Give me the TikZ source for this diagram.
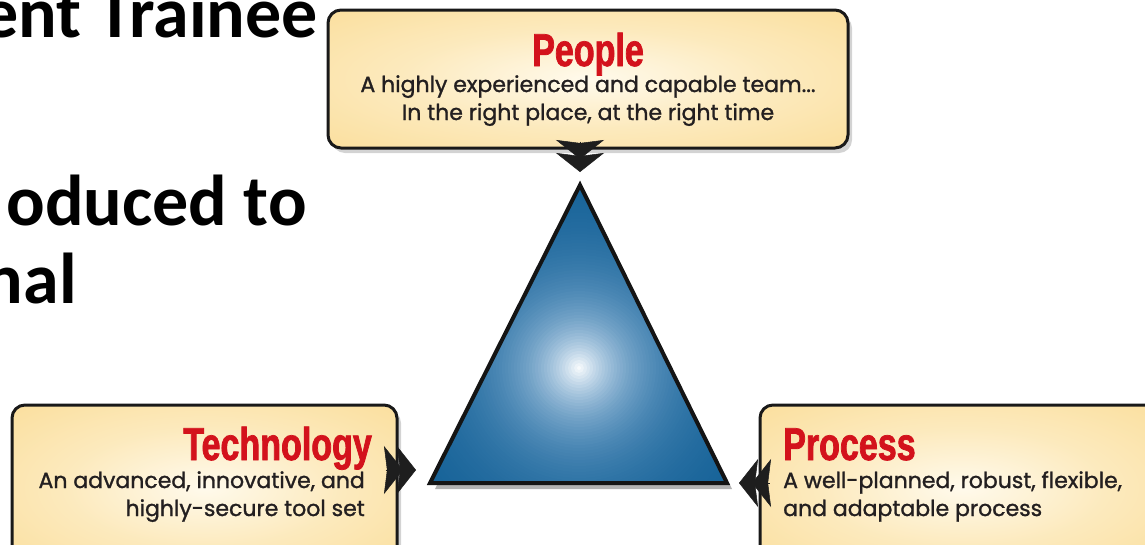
\documentclass[tikz,border=0pt]{standalone}
\usepackage{fontspec}
\setmainfont{Poppins}
\newfontfamily\bodyfont[FakeBold=1.2]{Poppins}
\newfontfamily\titlefont[FakeStretch=0.74,FakeBold=1.6]{Liberation Sans}
\newfontfamily\slidefont{Carlito}
\usetikzlibrary{arrows.meta,shadows}
\definecolor{boxedge}{HTML}{F9D684}
\definecolor{boxmid}{HTML}{FFFAEC}
\definecolor{titlered}{HTML}{D3121C}
\definecolor{bodytext}{HTML}{231F20}
\definecolor{arrowc}{HTML}{1E1E1E}
\definecolor{trimid}{HTML}{3A80BA}
\definecolor{triedge}{HTML}{0B5A90}
\pgfdeclareradialshading{boxshade}{\pgfpoint{0bp}{0bp}}{color(0bp)=(boxmid); color(18bp)=(boxmid!55!boxedge); color(50bp)=(boxedge)}
\tikzset{
  infobox/.style={draw=black!90, line width=3pt, rounded corners=13pt, shading=boxshade,
    drop shadow={opacity=0.35, shadow xshift=4pt, shadow yshift=-5pt}, inner sep=0pt},
  boxtitle/.style={font=\titlefont\bfseries\fontsize{46}{46}\selectfont, text=titlered, inner sep=0pt},
  boxbody/.style={font=\bodyfont\fontsize{22}{26}\selectfont, text=bodytext, inner sep=0pt},
  slidetext/.style={font=\slidefont\bfseries\fontsize{72}{80}\selectfont, inner sep=0pt, anchor=base east},
  conn/.style={draw=arrowc, line width=0.5pt,
    -{Stealth[length=19pt,width=48pt,inset=3pt,sep=-6pt]Stealth[length=19pt,width=48pt,inset=3pt]}},
}
\begin{document}
\begin{tikzpicture}[x=1pt,y=-1pt]
\useasboundingbox (0,0) rectangle (1145,544);
\clip (0,0) rectangle (1145,544);
% slide text behind
\node[slidetext] (s1) at (318,37) {ent Trainee};
\node[slidetext] (s2) at (307,225) {oduced to};
\node[slidetext] (s3) at (77,303) {nal};
% boxes
\node[infobox, minimum width=520pt, minimum height=138pt] (ppl) at (588,79) {};
\node[infobox, minimum width=385pt, minimum height=165pt] (tech) at (204.5,487.5) {};
\node[infobox, minimum width=405pt, minimum height=165pt] (proc) at (962.5,487.5) {};
% texts
\node[boxtitle, anchor=base] (pt) at (588,66) {People};
\node[boxbody, anchor=base] (pl1) at (588,92) {A highly experienced and capable team...};
\node[boxbody, anchor=base] (pl2) at (588,120) {In the right place, at the right time};
\node[boxtitle, anchor=base east] (tt) at (372,460) {Technology};
\node[boxbody, anchor=base east] (tl1) at (365,488) {An advanced, innovative, and};
\node[boxbody, anchor=base east] (tl2) at (365,516) {highly-secure tool set};
\node[boxtitle, anchor=base west] (rt) at (783,460) {Process};
\node[boxbody, anchor=base west] (rl1) at (783,488) {A well-planned, robust, flexible,};
\node[boxbody, anchor=base west] (rl2) at (783,516) {and adaptable process};
% triangle
\coordinate (apex) at (580,185);
\coordinate (bl) at (430,483);
\coordinate (br) at (727,483);
\coordinate (glow) at (579,368);
\fill[black, opacity=0.3] ([shift={(5pt,-6pt)}]apex) -- ([shift={(5pt,-6pt)}]br) -- ([shift={(5pt,-6pt)}]bl) -- cycle;
\begin{scope}
  \clip (apex) -- (br) -- (bl) -- cycle;
  \fill[triedge] (apex) -- (br) -- (bl) -- cycle;
  \foreach \r in {200,197,...,2} {
    \pgfmathsetmacro{\fw}{100*exp(-\r/50)}
    \pgfmathsetmacro{\fb}{100*exp(-\r/95)}
    \colorlet{tmpblue}{trimid!\fb!triedge}
    \fill[white!\fw!tmpblue] (glow) circle (\r);
  }
\end{scope}
\draw[line width=4pt, line join=miter, draw=black!92] (apex) -- (br) -- (bl) -- cycle;
% connectors
\coordinate (ptip) at (580,172);
\coordinate (ttip) at (416,470);
\coordinate (rtip) at (739,483);
\draw[conn] ([yshift=8pt]ppl.south -| ptip) -- (ptip);
\draw[conn] ([xshift=-13pt]tech.east |- ttip) -- (ttip);
\draw[conn] ([xshift=11pt]proc.west |- rtip) -- (rtip);
\end{tikzpicture}
\end{document}
